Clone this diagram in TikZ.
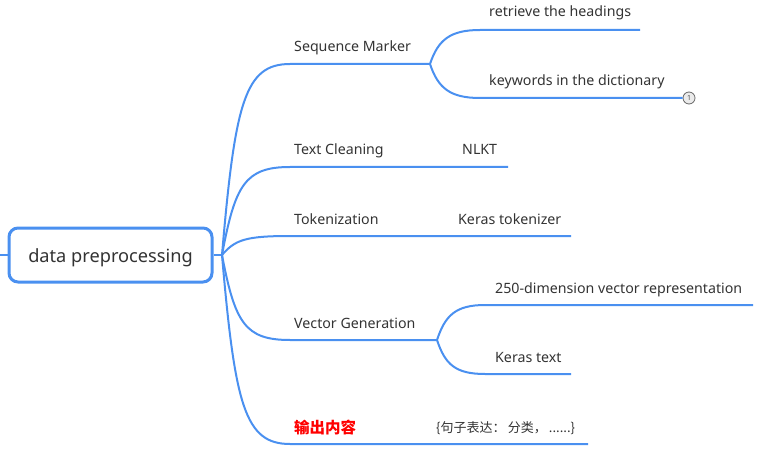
\documentclass[tikz,border=0pt]{standalone}
\usepackage{fontspec}
\setmainfont{Noto Sans}
\newfontfamily\cjk{Noto Sans CJK SC}
\definecolor{lineblue}{RGB}{74,144,240}
\definecolor{txt}{RGB}{51,51,51}
\begin{document}
\begin{tikzpicture}[x=1pt,y=-1pt,
  conn/.style={draw=lineblue,line width=2pt},
  lbl/.style={anchor=base west,inner sep=0pt,text=txt,font=\fontsize{14.2}{16}\selectfont},
  rootbox/.style={draw=lineblue,line width=3pt,rounded corners=9pt,minimum width=203pt,minimum height=54pt,fill=white,text=txt,text height=16pt,text depth=1pt,font=\fontsize{18.2}{20}\selectfont},
  badge/.style={circle,draw=black!60,fill=black!8,line width=0.8pt,minimum size=12pt,inner sep=0pt,text=black!70,font=\fontsize{7}{8}\selectfont}]
\useasboundingbox (0,0) rectangle (759,454);

% root
\node[rootbox] (root) at (110.5,255) {data preprocessing};
\coordinate (lstub) at (0,255);
\draw[conn] (lstub) -- (root.west);
\coordinate (j0) at (222,255);
\draw[conn] (root.east) -- (j0);

% Sequence Marker
\coordinate (seqS) at (290,64); \coordinate (seqE) at (430,64);
\draw[conn] (j0) .. controls +(13,-153) and +(-45,0) .. (seqS) -- (seqE);
\node[lbl] (seq) at (294,52) {Sequence Marker};
\coordinate (retS) at (480,30); \coordinate (retE) at (640,30);
\draw[conn] (seqE) .. controls +(8,-24) and +(-30,0) .. (retS) -- (retE);
\node[lbl] (ret) at (489,17) {retrieve the headings};
\coordinate (kwS) at (480,98);
\node[badge] (bd) at (689,98) {1};
\draw[conn] (seqE) .. controls +(8,24) and +(-30,0) .. (kwS) -- (bd.west);
\node[lbl] (kw) at (489,86) {keywords in the dictionary};

% Text Cleaning
\coordinate (tcS) at (290,167); \coordinate (tcE) at (508,167);
\draw[conn] (j0) .. controls +(13,-70) and +(-45,0) .. (tcS) -- (tcE);
\node[lbl] (tc) at (294,155) {Text Cleaning};
\node[lbl] (nlkt) at (462,155) {NLKT};

% Tokenization
\coordinate (tkS) at (290,236); \coordinate (tkE) at (571,236);
\draw[conn] (j0) .. controls +(13,-15) and +(-45,0) .. (tkS) -- (tkE);
\node[lbl] (tok) at (294,224) {Tokenization};
\node[lbl] (kt) at (458,224) {Keras tokenizer};

% Vector Generation
\coordinate (vgS) at (290,340); \coordinate (vgE) at (437,340);
\draw[conn] (j0) .. controls +(13,68) and +(-45,0) .. (vgS) -- (vgE);
\node[lbl] (vg) at (294,328) {Vector Generation};
\coordinate (vrS) at (485,305); \coordinate (vrE) at (753,305);
\draw[conn] (vgE) .. controls +(8,-24) and +(-30,0) .. (vrS) -- (vrE);
\node[lbl] (vr) at (495,293) {250-dimension vector representation};
\coordinate (ktS) at (485,374); \coordinate (ktE) at (571,374);
\draw[conn] (vgE) .. controls +(8,24) and +(-30,0) .. (ktS) -- (ktE);
\node[lbl] (ktext) at (495,362) {Keras text};

% Output
\coordinate (ouS) at (290,444); \coordinate (ouE) at (588,444);
\draw[conn] (j0) .. controls +(13,151) and +(-45,0) .. (ouS) -- (ouE);
\node[lbl,text=red,font=\cjk\bfseries\fontsize{15.5}{18}\selectfont] (out) at (294,433) {输出内容};
\node[lbl,font=\cjk\fontsize{13}{15}\selectfont] (ex) at (436,432) {\{句子表达：\,分类，\,......\}};
\end{tikzpicture}
\end{document}
